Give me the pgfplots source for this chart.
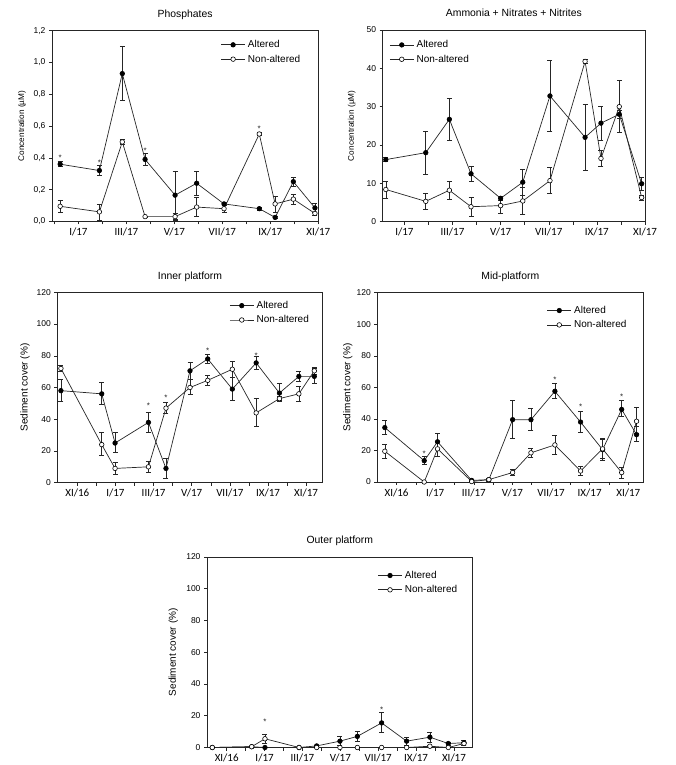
\documentclass[border=0pt]{standalone}
\usepackage{pgfplots}
\pgfplotsset{compat=1.18}
\usepackage{pgfplotstable}
\usepackage{fontspec}
\setmainfont{Liberation Sans}
\newfontfamily\calib{Carlito}

% x = month index (I/17 = 1), a = altered, n = non-altered, p/m = error plus/minus
\pgfplotstableread{
x      a     ap    am    n     np    nm
0.24   0.36  0.015 0.015 0.095 0.035 0.035
1.875  0.32  0.03  0.03  0.06  0.05  0.05
2.83   0.93  0.17  0.17  0.50  0.015 0.015
3.78   0.39  0.04  0.04  0.03  0.005 0.005
5.03   0.165 0.15  0.15  0.03  0.02  0.02
5.93   0.24  0.075 0.075 0.09  0.06  0.06
7.07   0.11  0.01  0.01  0.08  0.02  0.02
8.54   0.08  0.008 0.008 0.55  0.01  0.01
9.2    0.025 0.005 0.005 0.11  0.05  0.05
9.96   0.25  0.03  0.03  0.14  0.03  0.03
10.86  0.085 0.03  0.03  0.05  0.01  0.01
}\phos
\pgfplotstableread{
x      a     ap    am    n     np    nm
0.23   16.2  0.5   0.5   8.4   2.2   2.2
1.89   18.0  5.7   5.7   5.3   2.0   2.0
2.87   26.7  5.4   5.4   8.2   2.4   2.4
3.77   12.5  2.0   2.0   3.9   2.4   2.4
5.0    6.1   0.5   0.5   4.2   1.9   1.9
5.92   10.3  3.3   3.3   5.4   3.5   3.5
7.05   32.8  9.2   9.2   10.7  3.4   3.4
8.51   22.0  8.6   8.6   41.8  0.5   0.5
9.17   25.7  4.4   4.4   16.5  2.0   2.0
9.93   28.0  1.0   1.0   30.0  6.8   6.8
10.86  9.9   1.8   1.8   6.3   0.7   0.7
}\ammo
\pgfplotstableread{
x      a     ap    am    n     np    nm
-1.86  58    7     7     72    2     2
0.28   56    7     6.5   24    7.5   6.5
0.98   25    6.5   6     9     4     3.5
2.73   38    6.5   6.5   10    3.5   3.5
3.65   9     6.5   6     47    3.5   3
4.91   70.5  5.5   5.5   60    5     4
5.84   78    3     2.5   64.5  3     3
7.13   59    7.5   7     71.5  5     5
8.38   75.5  4     4     44    9     8.5
9.6    56.5  6     4.5   53    1.5   2
10.62  67    3.5   3     56    5     5
11.43  67    5     4.5   70.5  2     2
}\inner
\pgfplotstableread{
x      a     ap    am    n     np    nm
-1.61  34.5  4.5   4.5   19.5  4.5   4.5
0.43   13.5  2.5   2     0     0     0
1.12   25.5  5.5   5     21    5     5
2.89   1     1     1     0.3   0.3   0.3
3.78   1.5   1     1     1.5   0.5   0.5
5.01   39.5  12    11.5  6     2     2
5.96   39.5  7     7     18.5  3     3
7.2    57.5  5     4.5   23.5  6     6
8.53   38    6.5   6.5   7     3     3
9.67   20.5  6.5   7     21    7     6
10.66  46    5.5   4.5   6     3.5   3.5
11.43  30    5     4.5   38.5  9     7.5
}\mid
\pgfplotstableread{
x      a     ap    am    n     np    nm
-1.76  0     0     0     0     0     0
0.32   0.5   0.3   0.3   0.5   0     0
1.02   0     0     0     5.5   3     3
2.82   0     0     0     0     0     0
3.75   1     0.5   0.5   0     0     0
4.98   4     3     2.5   0     0     0
5.9    7     3     3     0     0     0
7.18   15.5  6.5   6     0     0     0
8.5    4     2.5   2.5   0     0     0
9.73   6.5   3     3     0.8   0.7   0.8
10.7   2.5   0.5   1     0     0     0
11.53  3     1.5   1.5   2.5   1     1
}\outer

\pgfplotsset{
 panel/.style={
  scale only axis,
  axis line style={black!85, line width=0.6pt},
  tick pos=left, tick align=outside, major tick length=3pt,
  tick style={black!85, line width=0.5pt},
  /pgf/number format/assume math mode=true,
  yticklabel style={font=\fontsize{8.5}{10}\selectfont},
  xticklabel style={font=\calib\fontsize{11}{13}\selectfont},
  title style={font=\fontsize{10.4}{12}\selectfont, at={(0.5,1)}, anchor=base, yshift=7pt},
  legend style={draw=none, fill=none, font=\fontsize{10}{12}\selectfont,
    inner sep=0pt, row sep=0.6pt, nodes={inner sep=2.5pt}, anchor=north west},
  legend cell align=left,
  legend image code/.code={\draw[mark repeat=2,mark phase=2,##1] plot coordinates {(0pt,0pt) (12pt,0pt) (24pt,0pt)};},
 },
 months/.style={xtick={-1,0,1,2,3,4,5,6,7,8,9,10,11},
   xticklabels={XI/16,,I/17,,III/17,,V/17,,VII/17,,IX/17,,XI/17}},
 months17/.style={xtick={0,1,2,3,4,5,6,7,8,9,10,11},
   xticklabels={,I/17,,III/17,,V/17,,VII/17,,IX/17,,XI/17}},
 alt/.style={color=black!85, line width=0.7pt, mark=*, mark size=2.3pt,
   mark options={fill=black, draw=black, line width=0.6pt},
   error bars/.cd, y dir=both, y explicit,
   error bar style={line width=0.6pt, black!85},
   error mark options={rotate=90, mark size=2.5pt, line width=0.6pt, black!85}},
 non/.style={color=black!85, line width=0.7pt, mark=*, mark size=2.3pt,
   mark options={fill=white, draw=black, line width=0.6pt},
   error bars/.cd, y dir=both, y explicit,
   error bar style={line width=0.6pt, black!85},
   error mark options={rotate=90, mark size=2.5pt, line width=0.6pt, black!85}},
 star/.style={draw=none, mark=none, forget plot,
   nodes near coords={*}, nodes near coords align={anchor=center},
   every node near coord/.append style={font=\fontsize{8}{9}\selectfont, inner sep=0pt, black!85}},
}

\begin{document}
\begin{tikzpicture}
\useasboundingbox (0pt,0pt) rectangle (675pt,765pt);

% ---------------- Phosphates
\begin{axis}[panel, months17, at={(52pt,734.3pt)}, anchor=north west,
  width=266.3pt, height=190.7pt, xmin=-0.1, xmax=11, ymin=0, ymax=1.2,
  ytick={0,0.2,0.4,0.6,0.8,1.0,1.2},
  yticklabel style={/pgf/number format/.cd, use comma, fixed, fixed zerofill, precision=1},
  title={Phosphates},
  ylabel={Concentration (\textmu M)},
  ylabel style={at={(axis description cs:-0.1127,0.5)}, anchor=center, font=\fontsize{8.2}{10}\selectfont},
  legend style={at={(axis description cs:0.633,0.963)}}]
\addplot[alt] table[x=x, y=a, y error plus=ap, y error minus=am] {\phos};
\addlegendentry{Altered}
\addplot[non] table[x=x, y=n, y error plus=np, y error minus=nm] {\phos};
\addlegendentry{Non-altered}
\addplot[star] coordinates {(0.24,0.40) (1.875,0.37) (3.78,0.445) (8.54,0.585)};
\end{axis}

% ---------------- Ammonia
\begin{axis}[panel, months17, at={(382.7pt,735pt)}, anchor=north west,
  width=262.3pt, height=191.7pt, xmin=0.1, xmax=11, ymin=0, ymax=50,
  ytick={0,10,20,30,40,50},
  title={Ammonia + Nitrates + Nitrites},
  ylabel={Concentration (\textmu M)},
  ylabel style={at={(axis description cs:-0.118,0.5)}, anchor=center, font=\fontsize{8.2}{10}\selectfont},
  legend style={at={(axis description cs:0.0248,0.959)}}]
\addplot[alt] table[x=x, y=a, y error plus=ap, y error minus=am] {\ammo};
\addlegendentry{Altered}
\addplot[non] table[x=x, y=n, y error plus=np, y error minus=nm] {\ammo};
\addlegendentry{Non-altered}
\end{axis}

% ---------------- Inner platform
\begin{axis}[panel, months, at={(57.3pt,472.7pt)}, anchor=north west,
  width=265.4pt, height=190.4pt, xmin=-2.05, xmax=11.87, ymin=0, ymax=120,
  ytick={0,20,40,60,80,100,120},
  title={Inner platform},
  ylabel={Sediment cover (\%)},
  ylabel style={at={(axis description cs:-0.122,0.5)}, anchor=center, font=\fontsize{10}{12}\selectfont},
  legend style={at={(axis description cs:0.6477,0.967)}}]
\addplot[alt] table[x=x, y=a, y error plus=ap, y error minus=am] {\inner};
\addlegendentry{Altered}
\addplot[non] table[x=x, y=n, y error plus=np, y error minus=nm] {\inner};
\addlegendentry{Non-altered}
\addplot[star] coordinates {(2.73,48.5) (3.65,53.5) (5.84,83.3) (8.38,80)};
\end{axis}

% ---------------- Mid-platform
\begin{axis}[panel, months, at={(377.3pt,472.3pt)}, anchor=north west,
  width=266pt, height=189.3pt, xmin=-2.0, xmax=11.78, ymin=0, ymax=120,
  ytick={0,20,40,60,80,100,120},
  title={Mid-platform},
  ylabel={Sediment cover (\%)},
  ylabel style={at={(axis description cs:-0.111,0.5)}, anchor=center, font=\fontsize{10}{12}\selectfont},
  legend style={at={(axis description cs:0.637,0.943)}}]
\addplot[alt] table[x=x, y=a, y error plus=ap, y error minus=am] {\mid};
\addlegendentry{Altered}
\addplot[non] table[x=x, y=n, y error plus=np, y error minus=nm] {\mid};
\addlegendentry{Non-altered}
\addplot[star] coordinates {(0.43,17.7) (7.2,65) (8.53,47.5) (10.66,54)};
\end{axis}

% ---------------- Outer platform
\begin{axis}[panel, months, at={(207pt,208pt)}, anchor=north west,
  width=265.7pt, height=190.5pt, xmin=-2.04, xmax=11.99, ymin=0, ymax=120,
  ytick={0,20,40,60,80,100,120},
  title={Outer platform},
  ylabel={Sediment cover (\%)},
  ylabel style={at={(axis description cs:-0.127,0.5)}, anchor=center, font=\fontsize{10}{12}\selectfont},
  legend style={at={(axis description cs:0.6417,0.94)}}]
\addplot[alt] table[x=x, y=a, y error plus=ap, y error minus=am] {\outer};
\addlegendentry{Altered}
\addplot[non] table[x=x, y=n, y error plus=np, y error minus=nm] {\outer};
\addlegendentry{Non-altered}
\addplot[star] coordinates {(1.02,16) (7.18,24)};
\end{axis}
\end{tikzpicture}
\end{document}
